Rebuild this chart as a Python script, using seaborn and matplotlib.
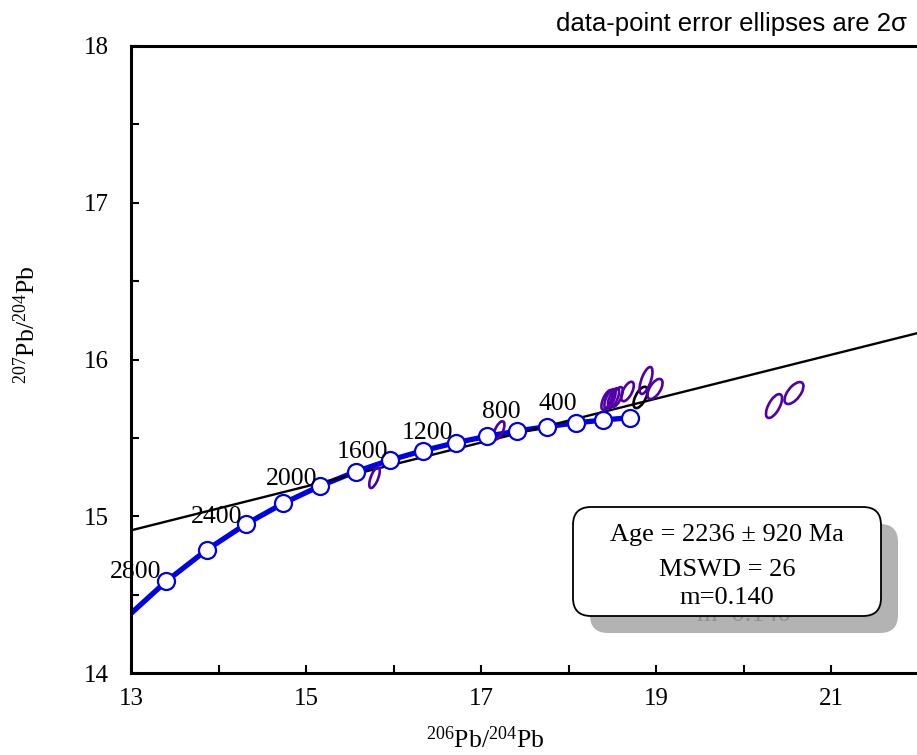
import numpy as np
import pandas as pd
import matplotlib
matplotlib.use("Agg")
import matplotlib.pyplot as plt
import seaborn as sns
from matplotlib.patches import Ellipse, FancyBboxPatch

# ---------------- data ----------------
growth_age = [0, 200, 400, 600, 800, 1000, 1200, 1400, 1600, 1800, 2000, 2200, 2400, 2600, 2800]
growth_206 = [18.703, 18.396, 18.080, 17.753, 17.416, 17.069, 16.710, 16.341, 15.959, 15.566,
              15.160, 14.742, 14.310, 13.864, 13.405]
growth_207 = [15.629, 15.614, 15.595, 15.572, 15.544, 15.510, 15.469, 15.419, 15.358, 15.284,
              15.193, 15.083, 14.949, 14.785, 14.586]
curve_tail_206 = [13.0]
curve_tail_207 = [14.38]
labeled_ages = [400, 800, 1200, 1600, 2000, 2400, 2800]

pt_206 = [15.783, 17.206, 18.440, 18.474, 18.514, 18.554, 18.674, 18.823, 18.886, 18.989, 20.349, 20.577]
pt_207 = [15.246, 15.548, 15.742, 15.748, 15.754, 15.761, 15.796, 15.758, 15.866, 15.812, 15.703, 15.786]
err_206 = [0.060, 0.062, 0.064, 0.064, 0.064, 0.066, 0.072, 0.080, 0.074, 0.086, 0.092, 0.108]
err_207 = [0.066, 0.058, 0.063, 0.063, 0.063, 0.063, 0.062, 0.068, 0.086, 0.064, 0.076, 0.070]
err_rho = [0.66, 0.62, 0.64, 0.64, 0.64, 0.64, 0.62, 0.60, 0.64, 0.60, 0.64, 0.62]
rejected = [False, False, False, False, False, False, False, True, False, False, False, False]

iso_x0, iso_y0, iso_slope = 13.0, 14.91, 0.140

x_ticks = [13, 15, 17, 19, 21]
y_ticks = [14, 15, 16, 17, 18]

box_lines = ["Age = 2236 \u00b1 920 Ma", "MSWD = 26", "m=0.140"]
title_text = "data-point error ellipses are 2\u03c3"

# ---------------- style ----------------
sns.set_theme(style="white")
plt.rcParams["font.family"] = ["Liberation Serif", "DejaVu Serif"]
plt.rcParams["mathtext.fontset"] = "custom"
plt.rcParams["mathtext.rm"] = "Liberation Serif"
plt.rcParams["mathtext.it"] = "Liberation Serif:italic"
plt.rcParams["mathtext.default"] = "rm"

W, H = 917, 755
fig = plt.figure(figsize=(W / 100, H / 100), dpi=100)
fig.patch.set_facecolor("white")

def fx(px):
    return px / W

def fy(py):
    return 1 - py / H

ax = fig.add_axes([fx(131), fy(673), (917 - 131) / W, (673 - 46) / H])
ax.set_facecolor("white")
ax.set_xlim(13, 13 + (917 - 131) / 87.5)
ax.set_ylim(14, 18)

# isochron
ax.axline((iso_x0, iso_y0), slope=iso_slope, color="black", lw=1.7, zorder=3)

# growth curve
curve = pd.DataFrame({"x": growth_206 + curve_tail_206, "y": growth_207 + curve_tail_207})
sns.lineplot(data=curve, x="x", y="y", sort=False, color="#0000E6", lw=3.8, ax=ax, zorder=2,
             estimator=None)
markers = pd.DataFrame({"age": growth_age, "x": growth_206, "y": growth_207})
sns.scatterplot(data=markers, x="x", y="y", s=150, facecolor="white", edgecolor="#0000E6",
                linewidth=1.6, ax=ax, zorder=5)

label_off = {400: (1.5, 9.0), 800: (2.0, 9.5), 1200: (-1.5, 3.0), 1600: (-1.5, 1.5),
             2000: (-2.0, 0.8), 2400: (-2.0, 0.8), 2800: (-4.0, 2.0)}
for age in labeled_ages:
    i = growth_age.index(age)
    ax.annotate(str(age), (growth_206[i], growth_207[i]), xytext=label_off[age],
                textcoords="offset points", ha="right", va="baseline", fontsize=18.5,
                color="black", zorder=6)

# error ellipses
for x, y, ex, ey, r, rej in zip(pt_206, pt_207, err_206, err_207, err_rho, rejected):
    cov = np.array([[ex * ex, r * ex * ey], [r * ex * ey, ey * ey]])
    vals, vecs = np.linalg.eigh(cov)
    ang = np.degrees(np.arctan2(vecs[1, 1], vecs[0, 1]))
    e = Ellipse((x, y), width=2 * np.sqrt(vals[1]), height=2 * np.sqrt(vals[0]), angle=ang,
                facecolor="none", edgecolor="black" if rej else "#5000A8", lw=1.9, zorder=4)
    ax.add_patch(e)

# axes styling
ax.set_xticks(x_ticks)
ax.set_xticks([14, 16, 18, 20], minor=True)
ax.set_yticks(y_ticks)
ax.set_yticks(np.arange(14.5, 18, 1.0), minor=True)
ax.tick_params(axis="both", which="both", direction="in", length=6, width=1.5, color="black",
               labelsize=18, labelcolor="black")
ax.tick_params(axis="x", which="both", pad=11, bottom=True)
ax.tick_params(axis="y", which="both", pad=16, left=True)
for s in ["left", "bottom", "top"]:
    ax.spines[s].set_visible(True)
    ax.spines[s].set_color("black")
    ax.spines[s].set_linewidth(2.2)
ax.spines["right"].set_visible(False)
ax.grid(False)

ax.set_xlabel(r"$^{206}$Pb/$^{204}$Pb", fontsize=18.5, color="black")
ax.set_ylabel(r"$^{207}$Pb/$^{204}$Pb", fontsize=18.5, color="black")
ax.xaxis.set_label_coords((485 - 131) / 786, (673 - 726) / 627)
ax.yaxis.set_label_coords((40 - 131) / 786, (673 - 325) / 627)

# title
fig.text(fx(907), fy(31), title_text, ha="right", va="baseline", fontsize=18.5,
         family=["Liberation Sans", "DejaVu Sans"], color="black")

# result box with shadow
sh = 17
bx0, by0, bx1, by1 = 573, 507, 881, 616
shadow = FancyBboxPatch((bx0 + sh, H - by1 - sh), bx1 - bx0, by1 - by0,
                        boxstyle="round,pad=0,rounding_size=18", transform=None,
                        facecolor="#b3b3b3", edgecolor="none", zorder=7)
fig.add_artist(shadow)
baselines = [541, 576, 604]
fig.text(fx(727 + sh), fy(baselines[2] + sh), box_lines[2], ha="center", va="baseline",
         fontsize=19, color="#8f8f8f", zorder=7.5)
box = FancyBboxPatch((bx0, H - by1), bx1 - bx0, by1 - by0,
                     boxstyle="round,pad=0,rounding_size=18", transform=None,
                     facecolor="white", edgecolor="black", lw=1.3, zorder=8)
fig.add_artist(box)
for txt, b in zip(box_lines, baselines):
    fig.text(fx(727), fy(b), txt, ha="center", va="baseline", fontsize=19, color="black",
             zorder=9)

fig.savefig("out.png", dpi=100, facecolor="white")
